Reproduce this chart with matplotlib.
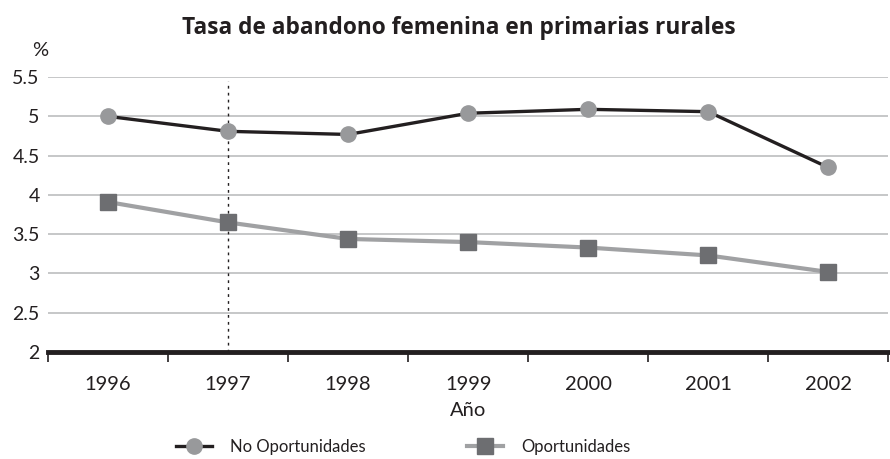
import numpy as np
import matplotlib.pyplot as plt
from matplotlib.lines import Line2D

years = ['1996', '1997', '1998', '1999', '2000', '2001', '2002']
no_oportunidades = [5.00, 4.81, 4.77, 5.04, 5.09, 5.06, 4.35]
oportunidades = [3.91, 3.65, 3.44, 3.40, 3.33, 3.23, 3.02]
yticks = [2, 2.5, 3, 3.5, 4, 4.5, 5, 5.5]
ytick_labels = ['2', '2.5', '3', '3.5', '4', '4.5', '5', '5.5']

plt.rcParams['font.family'] = ['Lato', 'DejaVu Sans']
txt = '#231f20'

fig = plt.figure(figsize=(8.9, 4.59), dpi=100)
ax = fig.add_axes([0.054, 0.233, 0.944, 0.599])

x = np.arange(len(years))
ax.plot(x, no_oportunidades, '-o', color='#231f20', lw=2.4,
        ms=11, mfc='#98999b', mec='#98999b', zorder=4,
        label='No Oportunidades')
ax.plot(x, oportunidades, '-s', color='#a0a1a3', lw=3,
        ms=11, mfc='#6d6e71', mec='#6d6e71', zorder=3,
        label='Oportunidades')

ax.axvline(1, ymin=0, ymax=0.985, color='#231f20', lw=1, ls=(0, (2, 3)), zorder=2)

ax.set_xlim(-0.5, 6.5)
ax.set_ylim(2, 5.5)
ax.set_yticks(yticks)
ax.set_yticklabels(ytick_labels, fontsize=14, color=txt)
ax.yaxis.grid(True, color='#bcbdbf', lw=1.2)
ax.set_axisbelow(True)

ax.set_xticks(x)
ax.set_xticklabels(years, fontsize=14.5, color=txt)
ax.set_xticks(np.arange(-0.5, 7, 1), minor=True)
ax.tick_params(axis='x', which='major', length=0, pad=17)
ax.tick_params(axis='x', which='minor', length=7, width=1.2, color='#231f20', direction='out')
ax.tick_params(axis='y', length=0, pad=6)

for side in ['top', 'right', 'left']:
    ax.spines[side].set_visible(False)
ax.spines['bottom'].set_linewidth(3.5)
ax.spines['bottom'].set_color('#231f20')

ax.set_xlabel('Año', fontsize=14.5, color=txt, labelpad=7)

fig.text(0.516, 0.94, 'Tasa de abandono femenina en primarias rurales',
         ha='center', va='center', fontsize=16.3, fontweight='bold', color=txt,
         family=['Open Sans', 'DejaVu Sans'])
fig.text(0.045, 0.89, '%', ha='center', va='center', fontsize=14.5, color=txt)

handles = [
    Line2D([0], [0], color='#231f20', lw=2.4, marker='o', ms=11,
           mfc='#98999b', mec='#98999b'),
    Line2D([0], [0], color='#a0a1a3', lw=3, marker='s', ms=11,
           mfc='#6d6e71', mec='#6d6e71'),
]
leg = fig.legend(handles, ['No Oportunidades', 'Oportunidades'], loc='center',
                 bbox_to_anchor=(0.453, 0.027), ncol=2, frameon=False,
                 fontsize=12, handlelength=2.15, handletextpad=1.08,
                 columnspacing=6.1)
for t in leg.get_texts():
    t.set_color(txt)

fig.savefig('out.png', dpi=100)
